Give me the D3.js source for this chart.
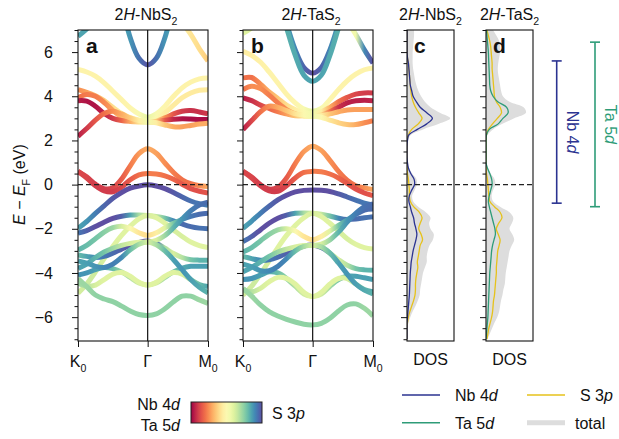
<!DOCTYPE html>
<html>
<head>
<meta charset="utf-8">
<script src="https://cdn.jsdelivr.net/npm/d3@7"></script>
<style>
  html, body { margin: 0; padding: 0; background: #fff; }
  svg text { font-family: "Liberation Sans", Arial, Helvetica, sans-serif; fill: #111; }
</style>
</head>
<body>
<svg id="fig" width="619" height="439"></svg>
<script>
// ---------- k path K0 -> Γ -> M0 (units of |ΓK|) ----------
const kPath = [0, 0.125, 0.25, 0.375, 0.5, 0.625, 0.75, 0.875, 1,
               1.1237, 1.2474, 1.3711, 1.4949, 1.6186, 1.7423, 1.866];
const kTicks = [0, 1, 1.866];
const kTickNames = [["K", "0"], ["\u0393", ""], ["M", "0"]];

// ---------- energy axis ----------
const energyMajor = [-6, -4, -2, 0, 2, 4, 6];
const energyMinor = [-7, -6.5, -5.5, -5, -4.5, -3.5, -3, -2.5, -1.5, -1, -0.5,
                     0.5, 1, 1.5, 2.5, 3, 3.5, 4.5, 5, 5.5, 6.5, 7];

// ---------- 2H-NbS2 bands: energies (eV) at kPath, and S 3p weight (0 = Nb 4d, 1 = S 3p) ----------
const nbs2Energy = [
  [6.72, 7.05, 7.5, null, null, null, null, null, null, null, null, null, null, null, null, null],
  [null, null, null, null, null, 8.2, 6.65, 5.72, 5.42, 5.72, 6.65, 8.2, null, null, null, null],
  [null, null, null, null, null, null, null, null, null, null, null, 8.0, 7.35, 6.8, 6.15, 5.6],
  [5.21, 5.10, 4.91, 4.61, 4.23, 3.85, 3.47, 3.20, 3.05, 3.20, 3.55, 4.00, 4.38, 4.64, 4.79, 4.83],
  [4.30, 4.18, 4.02, 3.80, 3.50, 3.22, 3.03, 2.93, 2.90, 2.99, 3.25, 3.60, 3.93, 4.15, 4.27, 4.30],
  [3.93, 4.08, 4.00, 3.72, 3.36, 3.06, 2.90, 2.84, 2.82, 2.87, 3.02, 3.20, 3.32, 3.35, 3.29, 3.20],
  [3.80, 3.78, 3.55, 3.22, 3.00, 2.90, 2.86, 2.84, 2.83, 2.86, 2.92, 2.96, 2.98, 2.97, 2.95, 2.95],
  [2.19, 2.54, 2.92, 3.22, 3.32, 3.20, 3.02, 2.90, 2.86, 2.80, 2.70, 2.62, 2.62, 2.68, 2.74, 2.78],
  [0.60, 0.35, 0.02, -0.18, -0.14, 0.25, 0.85, 1.40, 1.62, 1.42, 0.98, 0.55, 0.22, 0.04, -0.05, -0.08],
  [0.60, 0.30, -0.05, -0.28, -0.32, -0.12, 0.22, 0.44, 0.50, 0.48, 0.40, 0.24, 0.02, -0.18, -0.30, -0.38],
  [-1.98, -1.67, -1.30, -0.96, -0.62, -0.36, -0.16, -0.06, -0.01, -0.06, -0.18, -0.36, -0.56, -0.74, -0.86, -0.93],
  [-2.20, -2.08, -1.90, -1.70, -1.53, -1.43, -1.38, -1.38, -1.40, -1.44, -1.52, -1.64, -1.78, -1.90, -1.97, -2.00],
  [-4.92, -4.50, -3.95, -3.35, -2.80, -2.30, -1.88, -1.55, -1.40, -1.50, -1.75, -2.05, -2.35, -2.60, -2.76, -2.85],
  [-2.96, -2.75, -2.45, -2.15, -1.95, -1.88, -1.98, -2.18, -2.30, -2.18, -1.95, -1.75, -1.58, -1.44, -1.34, -1.30],
  [-3.18, -3.25, -3.30, -3.25, -3.10, -2.92, -2.75, -2.62, -2.55, -2.65, -2.88, -3.12, -3.30, -3.40, -3.42, -3.42],
  [-3.79, -3.60, -3.30, -3.05, -2.88, -2.75, -2.66, -2.61, -2.60, -2.52, -2.30, -1.95, -1.55, -1.18, -0.92, -0.80],
  [-4.10, -4.00, -3.85, -3.75, -3.80, -3.95, -4.20, -4.45, -4.55, -4.45, -4.20, -3.95, -3.78, -3.70, -3.70, -3.70],
  [-4.47, -4.60, -4.55, -4.30, -4.05, -3.98, -4.15, -4.42, -4.55, -4.42, -4.15, -3.98, -4.05, -4.30, -4.52, -4.62],
  [-4.25, -4.62, -5.00, -5.18, -5.30, -5.50, -5.72, -5.88, -5.92, -5.85, -5.62, -5.30, -5.05, -5.05, -5.22, -5.38],
  [-3.45, -3.55, -3.70, -3.75, -3.60, -3.30, -2.95, -2.70, -2.60, -2.72, -3.00, -3.40, -3.85, -4.30, -4.65, -4.90]
];
const nbs2Weight = [
  [0.85, 0.85, 0.85, null, null, null, null, null, null, null, null, null, null, null, null, null],
  [null, null, null, null, null, 0.85, 0.88, 0.94, 0.99, 0.94, 0.88, 0.85, null, null, null, null],
  [null, null, null, null, null, null, null, null, null, null, null, 0.45, 0.45, 0.42, 0.40, 0.36],
  [0.47, 0.47, 0.47, 0.47, 0.47, 0.47, 0.48, 0.52, 0.58, 0.52, 0.48, 0.47, 0.47, 0.47, 0.47, 0.47],
  [0.25, 0.28, 0.32, 0.36, 0.40, 0.44, 0.48, 0.52, 0.56, 0.50, 0.45, 0.44, 0.44, 0.44, 0.44, 0.44],
  [0.20, 0.22, 0.22, 0.24, 0.28, 0.32, 0.38, 0.45, 0.55, 0.40, 0.25, 0.15, 0.10, 0.08, 0.08, 0.10],
  [0.05, 0.03, 0.03, 0.06, 0.10, 0.18, 0.30, 0.42, 0.55, 0.35, 0.15, 0.06, 0.03, 0.02, 0.02, 0.02],
  [0.05, 0.10, 0.15, 0.20, 0.25, 0.30, 0.36, 0.45, 0.55, 0.45, 0.35, 0.30, 0.28, 0.28, 0.30, 0.30],
  [0.12, 0.12, 0.10, 0.10, 0.12, 0.16, 0.22, 0.27, 0.30, 0.28, 0.25, 0.22, 0.20, 0.20, 0.25, 0.30],
  [0.12, 0.12, 0.10, 0.10, 0.10, 0.12, 0.16, 0.20, 0.22, 0.22, 0.20, 0.18, 0.15, 0.14, 0.14, 0.15],
  [0.85, 0.88, 0.92, 0.96, 0.98, 1.00, 1.00, 1.00, 1.00, 1.00, 1.00, 0.98, 0.96, 0.94, 0.93, 0.92],
  [0.93, 0.97, 1.00, 1.00, 1.00, 0.97, 0.85, 0.70, 0.62, 0.65, 0.78, 0.90, 0.95, 0.95, 0.94, 0.94],
  [0.62, 0.64, 0.64, 0.62, 0.60, 0.60, 0.60, 0.60, 0.62, 0.60, 0.60, 0.62, 0.62, 0.60, 0.60, 0.60],
  [0.82, 0.80, 0.78, 0.75, 0.72, 0.62, 0.50, 0.42, 0.40, 0.45, 0.60, 0.78, 0.88, 0.93, 0.95, 0.95],
  [0.80, 0.85, 0.90, 0.93, 0.95, 0.97, 1.00, 1.00, 1.00, 0.95, 0.70, 0.62, 0.68, 0.78, 0.82, 0.82],
  [0.85, 0.85, 0.82, 0.78, 0.72, 0.66, 0.62, 0.60, 0.60, 0.62, 0.72, 0.82, 0.88, 0.92, 0.94, 0.95],
  [0.88, 0.88, 0.86, 0.84, 0.80, 0.74, 0.68, 0.63, 0.60, 0.63, 0.70, 0.78, 0.84, 0.86, 0.86, 0.86],
  [0.72, 0.68, 0.62, 0.60, 0.60, 0.60, 0.60, 0.60, 0.60, 0.60, 0.60, 0.60, 0.62, 0.70, 0.80, 0.85],
  [0.72, 0.72, 0.74, 0.74, 0.74, 0.74, 0.74, 0.74, 0.74, 0.74, 0.74, 0.74, 0.74, 0.74, 0.72, 0.72],
  [0.85, 0.86, 0.88, 0.90, 0.92, 0.90, 0.80, 0.70, 0.62, 0.70, 0.80, 0.86, 0.88, 0.86, 0.84, 0.82]
];

// ---------- 2H-TaS2 bands: energies (eV) and S 3p weight (0 = Ta 5d, 1 = S 3p) ----------
const tas2Energy = [
  [6.85, 7.1, 7.5, null, null, null, null, null, null, null, null, null, null, null, null, null],
  [6.04, 5.85, 5.55, 5.10, 4.60, 4.10, 3.70, 3.42, 3.32, 3.45, 3.85, 4.30, 4.70, 5.00, 5.20, 5.28],
  [null, null, null, null, null, null, null, null, null, null, null, 8.0, 7.4, 6.8, 6.1, 5.5],
  [null, null, null, null, null, 7.3, 6.1, 5.3, 5.05, 5.3, 6.1, 7.3, null, null, null, null],
  [null, null, null, null, 8.4, 7.1, 5.85, 4.95, 4.68, 4.95, 5.85, 7.1, 8.4, null, null, null],
  [4.83, 4.85, 4.55, 4.20, 3.90, 3.60, 3.40, 3.27, 3.22, 3.30, 3.50, 3.75, 3.95, 4.10, 4.15, 4.15],
  [4.30, 4.45, 4.35, 4.05, 3.70, 3.40, 3.20, 3.12, 3.10, 3.15, 3.30, 3.50, 3.70, 3.80, 3.82, 3.80],
  [3.93, 3.80, 3.60, 3.45, 3.30, 3.20, 3.12, 3.10, 3.10, 3.12, 3.20, 3.30, 3.38, 3.40, 3.40, 3.40],
  [2.49, 2.90, 3.30, 3.55, 3.50, 3.35, 3.20, 3.15, 3.12, 3.05, 2.92, 2.80, 2.72, 2.72, 2.80, 2.90],
  [0.60, 0.35, 0.00, -0.20, -0.12, 0.30, 0.95, 1.50, 1.74, 1.55, 1.10, 0.60, 0.20, -0.05, -0.15, -0.22],
  [0.60, 0.30, -0.05, -0.28, -0.30, -0.05, 0.30, 0.55, 0.60, 0.58, 0.48, 0.30, 0.05, -0.20, -0.38, -0.50],
  [-1.98, -1.65, -1.30, -0.98, -0.69, -0.48, -0.33, -0.26, -0.24, -0.26, -0.31, -0.42, -0.56, -0.70, -0.84, -0.92],
  [-2.58, -2.35, -2.05, -1.75, -1.52, -1.38, -1.30, -1.28, -1.30, -1.34, -1.42, -1.52, -1.58, -1.56, -1.50, -1.45],
  [-5.00, -4.60, -4.05, -3.45, -2.85, -2.30, -1.85, -1.50, -1.30, -1.45, -1.75, -2.10, -2.45, -2.70, -2.85, -2.92],
  [-3.05, -2.85, -2.55, -2.25, -2.05, -2.00, -2.10, -2.35, -2.50, -2.35, -2.10, -1.85, -1.60, -1.35, -1.15, -1.10],
  [-3.25, -3.35, -3.42, -3.40, -3.28, -3.10, -2.92, -2.78, -2.73, -2.85, -3.10, -3.40, -3.65, -3.80, -3.86, -3.88],
  [-3.95, -3.75, -3.50, -3.25, -3.05, -2.92, -2.82, -2.76, -2.75, -2.70, -2.50, -2.15, -1.70, -1.30, -1.00, -0.88],
  [-4.30, -4.25, -4.10, -3.95, -4.00, -4.25, -4.60, -4.95, -5.07, -4.95, -4.60, -4.30, -4.15, -4.15, -4.22, -4.30],
  [-4.75, -4.85, -4.70, -4.40, -4.20, -4.25, -4.50, -4.88, -5.07, -4.88, -4.50, -4.25, -4.25, -4.50, -4.75, -4.85],
  [-4.70, -5.05, -5.45, -5.75, -5.95, -6.10, -6.22, -6.32, -6.35, -6.28, -6.05, -5.72, -5.45, -5.40, -5.60, -5.95],
  [-3.60, -3.72, -3.90, -3.90, -3.70, -3.35, -3.00, -2.80, -2.75, -2.82, -3.10, -3.55, -4.05, -4.50, -4.78, -4.95]
];
const tas2Weight = [
  [0.60, 0.60, 0.60, null, null, null, null, null, null, null, null, null, null, null, null, null],
  [0.45, 0.45, 0.46, 0.47, 0.47, 0.47, 0.48, 0.52, 0.58, 0.52, 0.48, 0.47, 0.47, 0.47, 0.47, 0.47],
  [null, null, null, null, null, null, null, null, null, null, null, 0.50, 0.50, 0.55, 0.90, 1.00],
  [null, null, null, null, null, 0.86, 0.90, 0.96, 1.00, 0.96, 0.90, 0.86, null, null, null, null],
  [null, null, null, null, 0.82, 0.83, 0.84, 0.85, 0.85, 0.85, 0.84, 0.83, 0.82, null, null, null],
  [0.20, 0.20, 0.25, 0.30, 0.35, 0.40, 0.45, 0.50, 0.55, 0.45, 0.30, 0.20, 0.15, 0.12, 0.10, 0.10],
  [0.20, 0.25, 0.25, 0.22, 0.22, 0.25, 0.30, 0.42, 0.55, 0.40, 0.20, 0.08, 0.05, 0.05, 0.05, 0.06],
  [0.05, 0.08, 0.12, 0.18, 0.22, 0.28, 0.35, 0.45, 0.55, 0.45, 0.35, 0.30, 0.28, 0.28, 0.28, 0.28],
  [0.05, 0.12, 0.20, 0.25, 0.30, 0.35, 0.42, 0.50, 0.55, 0.50, 0.42, 0.38, 0.35, 0.30, 0.25, 0.22],
  [0.12, 0.12, 0.10, 0.10, 0.12, 0.16, 0.22, 0.27, 0.30, 0.28, 0.25, 0.22, 0.20, 0.20, 0.25, 0.30],
  [0.12, 0.12, 0.10, 0.10, 0.10, 0.12, 0.16, 0.20, 0.22, 0.22, 0.20, 0.18, 0.15, 0.14, 0.14, 0.15],
  [0.85, 0.88, 0.92, 0.96, 0.98, 1.00, 1.00, 1.00, 1.00, 1.00, 1.00, 0.98, 0.96, 0.94, 0.93, 0.92],
  [0.93, 0.97, 1.00, 1.00, 1.00, 0.97, 0.85, 0.70, 0.62, 0.65, 0.78, 0.90, 0.95, 0.95, 0.94, 0.94],
  [0.62, 0.64, 0.64, 0.62, 0.60, 0.60, 0.60, 0.60, 0.62, 0.60, 0.60, 0.62, 0.62, 0.60, 0.60, 0.60],
  [0.82, 0.80, 0.78, 0.75, 0.72, 0.62, 0.50, 0.42, 0.40, 0.45, 0.60, 0.78, 0.88, 0.93, 0.95, 0.95],
  [0.80, 0.85, 0.90, 0.93, 0.95, 0.97, 1.00, 1.00, 1.00, 0.95, 0.70, 0.62, 0.68, 0.78, 0.82, 0.82],
  [0.85, 0.85, 0.82, 0.78, 0.72, 0.66, 0.62, 0.60, 0.60, 0.62, 0.72, 0.82, 0.88, 0.92, 0.94, 0.95],
  [0.88, 0.88, 0.86, 0.84, 0.80, 0.74, 0.68, 0.63, 0.60, 0.63, 0.70, 0.78, 0.84, 0.86, 0.86, 0.86],
  [0.72, 0.68, 0.62, 0.60, 0.60, 0.60, 0.60, 0.60, 0.60, 0.60, 0.60, 0.60, 0.62, 0.70, 0.80, 0.85],
  [0.72, 0.72, 0.74, 0.74, 0.74, 0.74, 0.74, 0.74, 0.74, 0.74, 0.74, 0.74, 0.74, 0.74, 0.72, 0.72],
  [0.85, 0.86, 0.88, 0.90, 0.92, 0.90, 0.80, 0.70, 0.62, 0.70, 0.80, 0.86, 0.88, 0.86, 0.84, 0.82]
];

// ---------- projected DOS (arb. units) on a 0.25 eV grid from -7 to 7 eV ----------
const dosEnergy = d3.range(-7, 7.001, 0.25);
const nbs2DosNb = [0, 0, 0, 0, 0.01, 0.02, 0.03, 0.04, 0.05, 0.055, 0.06, 0.065, 0.07, 0.08, 0.09, 0.11, 0.13, 0.16, 0.19, 0.21, 0.19, 0.16, 0.14, 0.1, 0.07, 0.04, 0.05, 0.1, 0.16, 0.15, 0.08, 0.03, 0.01, 0, 0, 0, 0.01, 0.04, 0.22, 0.42, 0.54, 0.42, 0.28, 0.2, 0.13, 0.1, 0.07, 0.06, 0.05, 0.04, 0.03, 0.01, 0, 0, 0, 0, 0];
const nbs2DosS = [0, 0, 0, 0.01, 0.03, 0.06, 0.1, 0.14, 0.17, 0.18, 0.18, 0.19, 0.21, 0.23, 0.22, 0.24, 0.26, 0.28, 0.33, 0.3, 0.25, 0.28, 0.32, 0.26, 0.14, 0.07, 0.05, 0.05, 0.04, 0.03, 0.01, 0, 0, 0, 0, 0, 0, 0.03, 0.1, 0.24, 0.32, 0.25, 0.18, 0.13, 0.1, 0.08, 0.07, 0.06, 0.05, 0.04, 0.03, 0.01, 0, 0, 0, 0, 0];
const nbs2DosTotal = [0, 0, 0.01, 0.03, 0.07, 0.12, 0.18, 0.23, 0.27, 0.28, 0.3, 0.32, 0.34, 0.38, 0.42, 0.42, 0.44, 0.48, 0.55, 0.57, 0.5, 0.47, 0.5, 0.4, 0.24, 0.13, 0.11, 0.16, 0.21, 0.2, 0.11, 0.04, 0.01, 0, 0, 0, 0.02, 0.08, 0.34, 0.68, 0.92, 0.7, 0.5, 0.38, 0.3, 0.24, 0.2, 0.17, 0.15, 0.13, 0.12, 0.12, 0.12, 0.13, 0.14, 0.15, 0.15];
const tas2DosTa = [0, 0.01, 0.02, 0.03, 0.04, 0.045, 0.05, 0.055, 0.06, 0.065, 0.07, 0.075, 0.08, 0.09, 0.1, 0.11, 0.12, 0.14, 0.17, 0.2, 0.19, 0.16, 0.13, 0.1, 0.07, 0.05, 0.07, 0.1, 0.13, 0.12, 0.08, 0.03, 0, 0, 0, 0, 0, 0.01, 0.07, 0.26, 0.36, 0.47, 0.44, 0.25, 0.15, 0.1, 0.08, 0.075, 0.07, 0.065, 0.06, 0.055, 0.05, 0.04, 0.03, 0.02, 0.01];
const tas2DosS = [0.02, 0.04, 0.06, 0.09, 0.12, 0.14, 0.15, 0.16, 0.18, 0.19, 0.2, 0.21, 0.22, 0.22, 0.23, 0.24, 0.25, 0.28, 0.3, 0.26, 0.22, 0.27, 0.34, 0.3, 0.18, 0.08, 0.06, 0.05, 0.04, 0.03, 0.01, 0, 0, 0, 0, 0, 0, 0.01, 0.05, 0.14, 0.24, 0.33, 0.3, 0.22, 0.18, 0.17, 0.16, 0.15, 0.14, 0.13, 0.13, 0.12, 0.11, 0.1, 0.08, 0.05, 0.02];
const tas2DosTotal = [0.03, 0.08, 0.13, 0.18, 0.24, 0.28, 0.3, 0.32, 0.35, 0.37, 0.4, 0.41, 0.42, 0.44, 0.46, 0.48, 0.5, 0.55, 0.6, 0.56, 0.5, 0.55, 0.58, 0.5, 0.3, 0.15, 0.12, 0.15, 0.2, 0.18, 0.1, 0.04, 0.01, 0, 0, 0, 0, 0.03, 0.15, 0.35, 0.6, 0.85, 0.8, 0.5, 0.36, 0.32, 0.3, 0.28, 0.26, 0.25, 0.26, 0.28, 0.3, 0.3, 0.28, 0.22, 0.15];

// d-band energy windows (eV) marked on the right
const nbRange = [-0.84, 5.6];
const taRange = [-1.0, 6.45];

// ---------- colours ----------
const nbColor = "#2b3391";
const taColor = "#2e9c78";
const sColor = "#e6c21b";
const totalColor = "#dddddd";
const orbital = d3.interpolateSpectral;

// ---------- layout ----------
const svg = d3.select("#fig");
const defs = svg.append("defs");
const FS = 16;
const plotTop = 30, plotBottom = 341;
const yE = d3.scaleLinear().domain([-7.08, 7.0]).range([plotBottom, plotTop]);
const fmtE = d => (d < 0 ? "\u2212" : "") + Math.abs(d);

function rich(sel, parts, size) {
  let down = false;
  parts.forEach(p => {
    const ts = sel.append("tspan").text(p.t);
    if (p.i) ts.attr("font-style", "italic");
    if (p.sub) {
      ts.attr("font-size", size * 0.66);
      if (!down) { ts.attr("dy", size * 0.3); down = true; }
    } else if (down) { ts.attr("dy", -size * 0.3); down = false; }
  });
}

function energyAxis(x0, labels) {
  const g = svg.append("g").attr("transform", `translate(${x0},0)`);
  g.append("g").call(d3.axisLeft(yE).tickValues(energyMinor).tickSize(3.5).tickFormat(""))
    .call(s => s.select(".domain").remove());
  const maj = g.append("g").call(d3.axisLeft(yE).tickValues(energyMajor).tickSize(6).tickPadding(19)
      .tickFormat(labels ? fmtE : ""))
    .call(s => s.select(".domain").remove());
  g.selectAll("line").attr("stroke", "#111").attr("stroke-width", 1);
  maj.selectAll("text").attr("font-size", FS).attr("fill", "#111");
  maj.attr("font-family", null).attr("font-size", null);
}

function frame(x0, x1) {
  svg.append("rect").attr("x", x0).attr("y", plotTop).attr("width", x1 - x0)
    .attr("height", plotBottom - plotTop).attr("fill", "none").attr("stroke", "#111").attr("stroke-width", 1.1);
}

function fermi(x0, x1) {
  svg.append("line").attr("x1", x0).attr("x2", x1).attr("y1", yE(0)).attr("y2", yE(0))
    .attr("stroke", "#222").attr("stroke-width", 1.2).attr("stroke-dasharray", "5,3");
}

function panelLetter(x, letter) {
  svg.append("text").attr("x", x).attr("y", 53).attr("font-size", 21).attr("font-weight", "bold").text(letter);
}

function title(cx, metal) {
  const t = svg.append("text").attr("x", cx).attr("y", 20).attr("text-anchor", "middle").attr("font-size", FS);
  rich(t, [{t: "2"}, {t: "H", i: true}, {t: "-" + metal + "S"}, {t: "2", sub: true}], FS);
}

function bandPanel(x0, x1, energies, weights, id, letter) {
  const xk = d3.scaleLinear().domain([0, kPath[kPath.length - 1]]).range([x0, x1]);
  defs.append("clipPath").attr("id", id + "-clip").append("rect")
    .attr("x", x0).attr("y", plotTop).attr("width", x1 - x0).attr("height", plotBottom - plotTop);
  const g = svg.append("g").attr("clip-path", `url(#${id}-clip)`);
  const line = d3.line().x(p => xk(p.k)).y(p => yE(p.e)).curve(d3.curveCatmullRom.alpha(0.5));

  energies.forEach((band, i) => {
    const pts = band.map((e, j) => ({k: kPath[j], e, w: weights[i][j]})).filter(p => p.e != null);
    const xa = xk(pts[0].k), xb = xk(pts[pts.length - 1].k);
    const gid = `${id}-band${i}`;
    const grad = defs.append("linearGradient").attr("id", gid).attr("gradientUnits", "userSpaceOnUse")
      .attr("x1", xa).attr("x2", xb).attr("y1", 0).attr("y2", 0);
    pts.forEach(p => grad.append("stop").attr("offset", (xk(p.k) - xa) / (xb - xa)).attr("stop-color", orbital(p.w)));
    g.append("path").datum(pts).attr("d", line).attr("fill", "none")
      .attr("stroke", `url(#${gid})`).attr("stroke-width", 5);
  });

  // Γ marker and Fermi level
  svg.append("line").attr("x1", xk(kTicks[1])).attr("x2", xk(kTicks[1])).attr("y1", plotTop).attr("y2", plotBottom)
    .attr("stroke", "#111").attr("stroke-width", 1.2);
  fermi(x0, x1);
  frame(x0, x1);

  // k ticks and labels
  const ax = svg.append("g").attr("transform", `translate(0,${plotBottom})`)
    .call(d3.axisBottom(xk).tickValues(kTicks).tickSize(6).tickFormat(""));
  ax.select(".domain").remove();
  ax.selectAll("line").attr("stroke", "#111");
  kTicks.forEach((k, i) => {
    const t = svg.append("text").attr("x", xk(k)).attr("y", 367).attr("text-anchor", "middle").attr("font-size", FS);
    const parts = [{t: kTickNames[i][0]}];
    if (kTickNames[i][1]) parts.push({t: kTickNames[i][1], sub: true});
    rich(t, parts, FS);
  });
  energyAxis(x0, id === "nbs2");
  panelLetter(x0 + 8, letter);
}

function dosPanel(x0, x1, total, dProj, sProj, dColor, id, letter) {
  const xd = d3.scaleLinear().domain([0, 1]).range([x0, x1]);
  defs.append("clipPath").attr("id", id + "-clip").append("rect")
    .attr("x", x0).attr("y", plotTop).attr("width", x1 - x0).attr("height", plotBottom - plotTop);
  const g = svg.append("g").attr("clip-path", `url(#${id}-clip)`);
  const rows = arr => dosEnergy.map((e, i) => ({e, v: arr[i]}));
  const area = d3.area().y(d => yE(d.e)).x0(x0).x1(d => xd(Math.max(0, d.v))).curve(d3.curveCatmullRom);
  const line = d3.line().y(d => yE(d.e)).x(d => xd(Math.max(0, d.v))).curve(d3.curveCatmullRom);
  g.append("path").datum(rows(total)).attr("d", area).attr("fill", totalColor);
  g.append("path").datum(rows(sProj)).attr("d", line).attr("fill", "none").attr("stroke", sColor).attr("stroke-width", 1.3);
  g.append("path").datum(rows(dProj)).attr("d", line).attr("fill", "none").attr("stroke", dColor).attr("stroke-width", 1.3);
  frame(x0, x1);
  energyAxis(x0, false);
  svg.append("text").attr("x", (x0 + x1) / 2).attr("y", 365).attr("text-anchor", "middle")
    .attr("font-size", FS).text("DOS");
  panelLetter(x0 + 7, letter);
}

// ---------- panels ----------
bandPanel(78, 208, nbs2Energy, nbs2Weight, "nbs2", "a");
bandPanel(243, 373, tas2Energy, tas2Weight, "tas2", "b");
dosPanel(407, 454, nbs2DosTotal, nbs2DosNb, nbs2DosS, nbColor, "dosNb", "c");
dosPanel(486, 533, tas2DosTotal, tas2DosTa, tas2DosS, taColor, "dosTa", "d");
fermi(407, 533);

title(146, "Nb");
title(311, "Ta");
title(430.5, "Nb");
title(509.5, "Ta");

// y-axis title
const yt = svg.append("text").attr("transform", `translate(25,${yE(0)}) rotate(-90)`)
  .attr("text-anchor", "middle").attr("font-size", FS);
rich(yt, [{t: "E", i: true}, {t: " \u2212 "}, {t: "E", i: true}, {t: "F", sub: true}, {t: " (eV)"}], FS);

// ---------- d-band range bars ----------
function rangeBar(x, range, color, label, num) {
  const y0 = yE(range[0]), y1 = yE(range[1]);
  const g = svg.append("g").attr("stroke", color).attr("stroke-width", 1.6);
  g.append("line").attr("x1", x).attr("x2", x).attr("y1", y0).attr("y2", y1);
  g.append("line").attr("x1", x - 5).attr("x2", x + 5).attr("y1", y0).attr("y2", y0);
  g.append("line").attr("x1", x - 5).attr("x2", x + 5).attr("y1", y1).attr("y2", y1);
  const t = svg.append("text").attr("transform", `translate(${x + 10},${(y0 + y1) / 2}) rotate(90)`)
    .attr("text-anchor", "middle").attr("font-size", FS).style("fill", color);
  t.append("tspan").text(label + " " + num);
  t.append("tspan").attr("font-style", "italic").text("d");
}
rangeBar(556.7, nbRange, nbColor, "Nb", "4");
rangeBar(595, taRange, taColor, "Ta", "5");

// ---------- colour bar ----------
const cbX = 191, cbY = 402, cbW = 71, cbH = 21;
const cbGrad = defs.append("linearGradient").attr("id", "cbar").attr("x1", 0).attr("x2", 1).attr("y1", 0).attr("y2", 0);
d3.range(0, 1.0001, 0.05).forEach(t => cbGrad.append("stop").attr("offset", t).attr("stop-color", orbital(t)));
svg.append("rect").attr("x", cbX).attr("y", cbY).attr("width", cbW).attr("height", cbH)
  .attr("fill", "url(#cbar)").attr("stroke", "#222").attr("stroke-width", 1);
function orbLabel(x, y, anchor, name, num, letter) {
  const t = svg.append("text").attr("x", x).attr("y", y).attr("text-anchor", anchor).attr("font-size", FS);
  t.append("tspan").text(name + " " + num);
  t.append("tspan").attr("font-style", "italic").text(letter);
}
orbLabel(180, 410, "end", "Nb", "4", "d");
orbLabel(180, 431, "end", "Ta", "5", "d");
orbLabel(272, 419, "start", "S", "3", "p");

// ---------- DOS legend ----------
const legendItems = [
  {x: 402, y: 395, color: nbColor, w: 1.5, name: "Nb", num: "4", letter: "d"},
  {x: 402, y: 422.7, color: taColor, w: 1.5, name: "Ta", num: "5", letter: "d"},
  {x: 527, y: 395, color: sColor, w: 1.5, name: "S", num: "3", letter: "p"},
  {x: 527, y: 422.7, color: totalColor, w: 5, name: "total", num: null, letter: null}
];
legendItems.forEach(it => {
  svg.append("line").attr("x1", it.x).attr("x2", it.x + 38).attr("y1", it.y).attr("y2", it.y)
    .attr("stroke", it.color).attr("stroke-width", it.w);
  if (it.num) orbLabel(it.x + 53, it.y + 6, "start", it.name, it.num, it.letter);
  else svg.append("text").attr("x", it.x + 48).attr("y", it.y + 6).attr("font-size", FS).text(it.name);
});
</script>
</body>
</html>
